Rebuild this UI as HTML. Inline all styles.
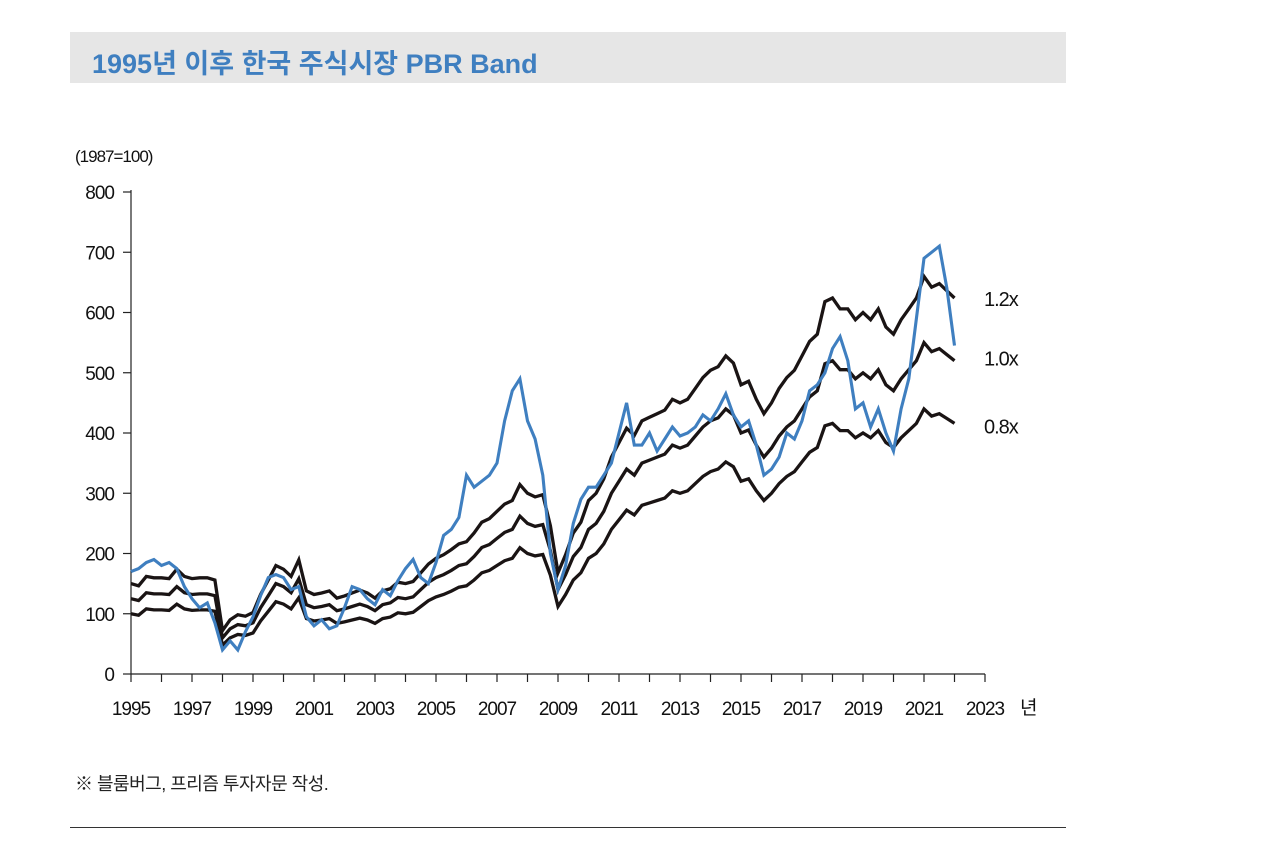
<!DOCTYPE html>
<html><head><meta charset="utf-8"><style>
body{margin:0;background:#fff;width:1280px;height:845px;overflow:hidden;font-family:"Liberation Sans","Noto Sans CJK KR",sans-serif}
#title-bar{position:absolute;left:70px;top:32px;width:996px;height:51px;background:#e6e6e6}
#title{position:absolute;left:22px;top:10px;font-size:27px;font-weight:bold;color:#3f7fc0;letter-spacing:0px}
#foot{position:absolute;left:75px;top:770px;font-size:18px;color:#222;letter-spacing:-0.5px}
#rule{position:absolute;left:70px;top:827px;width:996px;height:1px;background:#333}
svg{position:absolute;left:0;top:0}
svg text{font-family:"Liberation Sans","Noto Sans CJK KR",sans-serif;fill:#111;letter-spacing:-1px}
</style></head><body>
<div id="title-bar"><div id="title">1995년 이후 한국 주식시장 PBR Band</div></div>
<svg id="chart" width="1280" height="845"></svg>
<div id="foot">※ 블룸버그, 프리즘 투자자문 작성.</div>
<div id="rule"></div>
<script>
const startYear = 1995;
const yTicks = [0,100,200,300,400,500,600,700,800];
const xTickLabels = [1995,1997,1999,2001,2003,2005,2007,2009,2011,2013,2015,2017,2019,2021,2023];
const multiples = [1.2,1.0,0.8];
const multipleLabels = ["1.2x","1.0x","0.8x"];
// quarterly 1.0x PBR band (book value index)
const bookValue = [125,122,135,133,133,132,145,135,132,133,133,130,60,75,82,80,85,110,130,150,145,135,158,115,110,112,115,105,108,112,116,112,105,115,118,127,125,128,140,152,160,165,172,180,183,195,210,215,225,235,240,262,250,245,248,205,140,165,195,210,240,250,270,300,320,340,330,350,355,360,365,380,375,380,395,410,420,425,440,430,400,405,380,360,375,395,410,420,440,460,470,515,520,505,505,490,500,490,505,480,470,490,505,520,550,535,540,530,520];
// quarterly KOSPI index
const kospi = [170,175,185,190,180,185,175,145,125,110,118,85,40,55,40,70,95,130,160,165,160,140,145,95,80,90,75,80,110,145,140,125,115,140,130,155,175,190,160,150,185,230,240,260,330,310,320,330,350,420,470,490,420,390,330,200,140,180,250,290,310,310,330,350,400,450,380,380,400,370,390,410,395,400,410,430,420,440,465,430,410,420,380,330,340,360,400,390,420,470,480,500,540,560,520,440,450,410,440,400,370,440,490,590,690,700,710,640,545];

const svg=document.getElementById('chart');
const NS='http://www.w3.org/2000/svg';
const X0=131,X1=985,Y0=674,Y1=192;
const xs=t=>X0+(t-startYear)/(2023-startYear)*(X1-X0);
const ys=v=>Y0-v/800*(Y0-Y1);
function mk(tag,attrs){const e=document.createElementNS(NS,tag);for(const k in attrs)e.setAttribute(k,attrs[k]);svg.appendChild(e);return e;}
let a=mk('line',{x1:X0,y1:Y1-2,x2:X0,y2:Y0,stroke:'#222','stroke-width':1.2});


a=mk('line',{x1:X0,y1:Y0,x2:X1,y2:Y0,stroke:'#222','stroke-width':1.2});


yTicks.forEach(v=>{
  const t=mk('line',{x1:X0-8,y1:ys(v),x2:X0,y2:ys(v),stroke:'#222','stroke-width':1.2});
  
  
  const l=mk('text',{x:114,y:ys(v)+7,'text-anchor':'end','font-size':19});
  l.textContent=v;
  
  
});
for(let yr=1995;yr<=2023;yr++){
  const t=mk('line',{x1:xs(yr),y1:Y0,x2:xs(yr),y2:Y0+8,stroke:'#222','stroke-width':1.2});
  
  
}
xTickLabels.forEach(yr=>{
  const l=mk('text',{x:xs(yr),y:715,'text-anchor':'middle','font-size':19});
  l.textContent=yr;
  
  
});
let u=mk('text',{x:1020,y:714,'font-size':19});u.textContent='년';


u=mk('text',{x:75,y:162,'font-size':17});u.textContent='(1987=100)';


function path(arr,mult){return arr.map((v,i)=>(i?'L':'M')+xs(startYear+i/4).toFixed(1)+','+ys(v*mult).toFixed(1)).join('');}
const labelOffsets=[8,5,10];
multiples.forEach((m,k)=>{
  const p=mk('path',{d:path(bookValue,m),fill:'none',stroke:'#1a1414','stroke-width':3.3,'stroke-linejoin':'miter'});
  
  
  const lastV=bookValue[bookValue.length-1]*m;
  const l=mk('text',{x:984,y:ys(lastV)+labelOffsets[k],'font-size':20});
  l.textContent=multipleLabels[k];
  
  
});
const kp=mk('path',{d:path(kospi,1),fill:'none',stroke:'#3f7fc0','stroke-width':3.1});


</script>
</body></html>
